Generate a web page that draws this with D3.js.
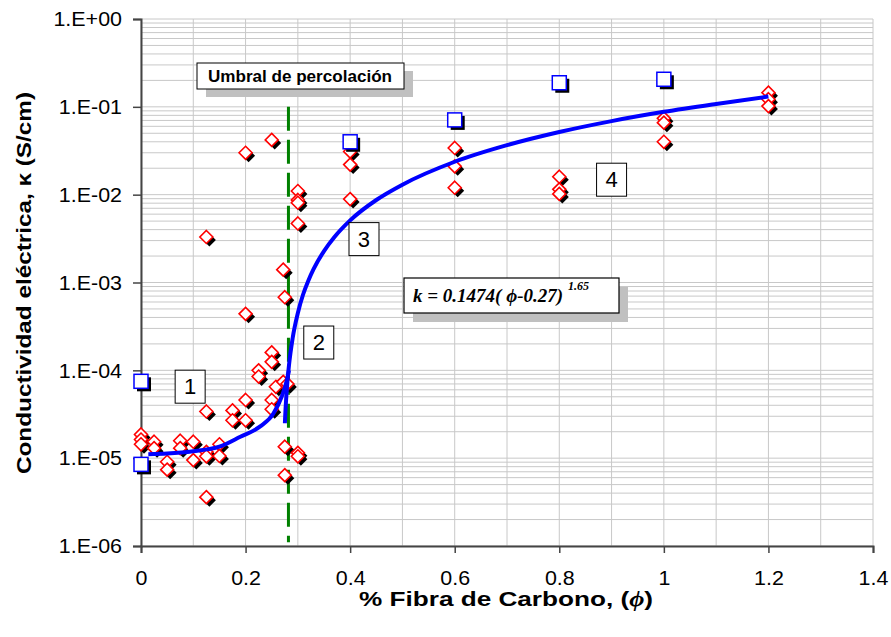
<!DOCTYPE html>
<html>
<head>
<meta charset="utf-8">
<script src="https://cdn.jsdelivr.net/npm/d3@7"></script>
<style>
  body { margin: 0; background: #fff; }
  svg { display: block; font-family: "Liberation Sans", Arial, sans-serif; }
</style>
</head>
<body>
<svg id="chart" width="891" height="637"></svg>
<script>
// measured samples (fibre %, conductivity S/cm)
const diamondX = [0, 0, 0, 0.025, 0.025, 0.05, 0.05, 0.075, 0.075, 0.1, 0.1,
  0.125, 0.125, 0.125, 0.125, 0.125, 0.15, 0.15, 0.175, 0.175,
  0.2, 0.2, 0.2, 0.2, 0.225, 0.225, 0.25, 0.25, 0.25, 0.25, 0.25, 0.258,
  0.272, 0.272, 0.275, 0.275, 0.275, 0.28,
  0.3, 0.3, 0.3, 0.3, 0.3, 0.3, 0.4, 0.4, 0.4, 0.6, 0.6, 0.6,
  0.8, 0.8, 0.8, 1.0, 1.0, 1.0, 1.2, 1.2, 1.2];
const diamondK = [1.86e-5, 1.63e-5, 1.44e-5, 1.54e-5, 1.3e-5, 9.1e-6, 7.4e-6, 1.58e-5, 1.3e-5, 1.54e-5, 9.5e-6,
  3.4e-5, 1.18e-5, 1.05e-5, 3.6e-6, 3.3e-3, 1.44e-5, 1.06e-5, 3.5e-5, 2.7e-5,
  4.6e-5, 2.7e-5, 4.4e-4, 3.0e-2, 1.0e-4, 8.5e-5, 1.6e-4, 1.25e-4, 4.6e-5, 3.6e-5, 4.2e-2, 6.5e-5,
  7.4e-5, 1.4e-3, 6.8e-4, 1.35e-5, 6.4e-6, 7.0e-5,
  1.1e-2, 8.7e-3, 8.1e-3, 4.7e-3, 1.15e-5, 1.05e-5, 3.1e-2, 2.2e-2, 8.9e-3, 3.4e-2, 2.1e-2, 1.2e-2,
  1.6e-2, 1.15e-2, 1.02e-2, 7.4e-2, 6.6e-2, 4.0e-2, 0.145, 0.122, 0.102];

// average values
const squareX = [0, 0, 0.4, 0.6, 0.8, 1.0];
const squareK = [7.5e-5, 8.5e-6, 4.0e-2, 7.1e-2, 0.188, 0.206];

// fitted curves
const lowFitX = [0.014, 0.05, 0.1, 0.15, 0.19, 0.228, 0.253, 0.269, 0.279, 0.283];
const lowFitK = [1.11e-5, 1.13e-5, 1.2e-5, 1.35e-5, 1.75e-5, 2.3e-5, 3.2e-5, 5.0e-5, 7.7e-5, 1.0e-4];
const percFitX = [0.2752, 0.276, 0.2775, 0.28, 0.283, 0.29, 0.3, 0.31, 0.32, 0.33, 0.35, 0.37, 0.4, 0.45, 0.5, 0.6, 0.7, 0.8, 0.9, 1.0, 1.1, 1.2];
const percFitK = [2.5e-5, 3.2e-5, 4.6e-5, 7.4e-5, 1.14e-4, 2.32e-4, 4.5e-4, 7.3e-4, 1.05e-3, 1.42e-3, 2.28e-3, 3.3e-3, 5.1e-3, 8.7e-3, 1.3e-2, 2.37e-2, 3.66e-2, 5.17e-2, 6.88e-2, 8.77e-2, 0.108, 0.131];

const threshold = 0.282;
const xTicks = [0, 0.2, 0.4, 0.6, 0.8, 1, 1.2, 1.4];
const yTicks = [1e-6, 1e-5, 1e-4, 1e-3, 1e-2, 1e-1, 1];
const yTickLabels = ["1.E-06", "1.E-05", "1.E-04", "1.E-03", "1.E-02", "1.E-01", "1.E+00"];
const regionLabels = ["1", "2", "3", "4"];
const regionX = [0.094, 0.34, 0.4265, 0.90];
const regionK = [6.6e-5, 2.1e-4, 3.16e-3, 1.5e-2];

const svg = d3.select("#chart");
const pLeft = 141, pRight = 873, pTop = 19, pBottom = 546;

const x = d3.scaleLinear().domain([0, 1.4]).range([pLeft, pRight]);
const y = d3.scaleLog().domain([1e-6, 1]).range([pBottom, pTop]);

// the original renders its Arial text a little wider than Liberation Sans
function widen(sel, f) {
    sel.each(function () {
        const len = this.getComputedTextLength();
        d3.select(this).attr("textLength", len * f).attr("lengthAdjust", "spacingAndGlyphs");
    });
}

// grid
const grid = svg.append("g").attr("stroke", "#c8c8c8").attr("stroke-width", 1);
d3.range(0, 1.41, 0.1).forEach(v => {
    grid.append("line").attr("x1", x(v)).attr("x2", x(v)).attr("y1", pTop).attr("y2", pBottom);
});
const minor = [];
for (let e = -6; e < 0; e++) for (let m = 1; m <= 9; m++) minor.push(m * Math.pow(10, e));
minor.push(1);
minor.forEach(v => {
    grid.append("line").attr("x1", pLeft).attr("x2", pRight).attr("y1", y(v)).attr("y2", y(v));
});

// axes
const xAxis = svg.append("g")
    .attr("transform", "translate(0," + pBottom + ")")
    .call(d3.axisBottom(x).tickValues(xTicks).tickSize(7).tickFormat(d3.format("")));
const yAxis = svg.append("g")
    .attr("transform", "translate(" + pLeft + ",0)")
    .call(d3.axisLeft(y).tickValues(yTicks).tickSize(8).tickFormat((d, i) => yTickLabels[i]));
[xAxis, yAxis].forEach(a => {
    a.select(".domain").attr("stroke", "#444").attr("stroke-width", 2);
    a.selectAll(".tick line").attr("stroke", "#444").attr("stroke-width", 1.5);
    a.selectAll("text").attr("fill", "#000").attr("font-family", "Liberation Sans, Arial, sans-serif");
});
xAxis.selectAll("text").attr("font-size", 19.5).attr("y", 25).attr("dy", "0.71em");
yAxis.selectAll("text").attr("font-size", 19.5).attr("x", -19).attr("dy", "0.35em");
widen(xAxis.selectAll("text"), 1.1);
widen(yAxis.selectAll("text"), 1.1);

// axis titles
svg.append("text")
    .attr("x", 506).attr("y", 606)
    .attr("text-anchor", "middle")
    .attr("font-weight", "bold").attr("font-size", 21)
    .attr("textLength", 294).attr("lengthAdjust", "spacingAndGlyphs")
    .html('% Fibra de Carbono, (<tspan font-family="Liberation Serif" font-style="italic">ϕ</tspan>)');
svg.append("text")
    .attr("transform", "translate(31,283) rotate(-90)")
    .attr("text-anchor", "middle")
    .attr("font-weight", "bold").attr("font-size", 20.5)
    .attr("textLength", 382).attr("lengthAdjust", "spacingAndGlyphs")
    .text("Conductividad eléctrica, κ (S/cm)");

// threshold line
svg.append("line")
    .attr("x1", x(threshold)).attr("x2", x(threshold))
    .attr("y1", y(0.1)).attr("y2", y(1.1e-6))
    .attr("stroke", "#008000").attr("stroke-width", 3)
    .attr("stroke-dasharray", "24,9");

// markers
const diamonds = diamondX.map((d, i) => ({ x: d, k: diamondK[i] }));
const squares = squareX.map((d, i) => ({ x: d, k: squareK[i] }));
const dPath = "M0,-6.5L6.5,0L0,6.5L-6.5,0Z";

const dg = svg.append("g");
dg.selectAll(".dshadow").data(diamonds).enter().append("path")
    .attr("class", "dshadow")
    .attr("d", dPath)
    .attr("transform", d => "translate(" + (x(d.x) + 3) + "," + (y(d.k) + 3) + ")")
    .attr("fill", "#000");
dg.selectAll(".diamond").data(diamonds).enter().append("path")
    .attr("class", "diamond")
    .attr("d", dPath)
    .attr("transform", d => "translate(" + x(d.x) + "," + y(d.k) + ")")
    .attr("fill", "#fff").attr("stroke", "#ff0000").attr("stroke-width", 1.6);

const sg = svg.append("g");
sg.selectAll(".sshadow").data(squares).enter().append("rect")
    .attr("class", "sshadow")
    .attr("x", d => x(d.x) - 7 + 3).attr("y", d => y(d.k) - 7 + 3)
    .attr("width", 14).attr("height", 14)
    .attr("fill", "#000");
sg.selectAll(".square").data(squares).enter().append("rect")
    .attr("class", "square")
    .attr("x", d => x(d.x) - 7).attr("y", d => y(d.k) - 7)
    .attr("width", 14).attr("height", 14)
    .attr("fill", "#fff").attr("stroke", "#0000ff").attr("stroke-width", 1.5);

// fitted curves
const line = d3.line().x(d => x(d[0])).y(d => y(d[1])).curve(d3.curveMonotoneX);
svg.append("path")
    .attr("d", line(lowFitX.map((v, i) => [v, lowFitK[i]])))
    .attr("fill", "none").attr("stroke", "#0000ff").attr("stroke-width", 4);
svg.append("path")
    .attr("d", line(percFitX.map((v, i) => [v, percFitK[i]])))
    .attr("fill", "none").attr("stroke", "#0000ff").attr("stroke-width", 4);

// region labels
regionLabels.forEach((t, i) => {
    const cx = x(regionX[i]), cy = y(regionK[i]);
    svg.append("rect")
        .attr("x", cx - 15).attr("y", cy - 16).attr("width", 30).attr("height", 33)
        .attr("fill", "#fff").attr("stroke", "#000").attr("stroke-width", 1);
    svg.append("text")
        .attr("x", cx).attr("y", cy + 8)
        .attr("text-anchor", "middle").attr("font-size", 22)
        .text(t);
});

// callout: percolation threshold
svg.append("rect").attr("x", 206).attr("y", 71).attr("width", 207).attr("height", 26).attr("fill", "#c0c0c0");
svg.append("rect").attr("x", 197).attr("y", 63).attr("width", 207).attr("height", 26)
    .attr("fill", "#fff").attr("stroke", "#000").attr("stroke-width", 1);
svg.append("text").attr("x", 300).attr("y", 82)
    .attr("text-anchor", "middle").attr("font-weight", "bold").attr("font-size", 16)
    .attr("textLength", 184).attr("lengthAdjust", "spacingAndGlyphs")
    .text("Umbral de percolación");

// callout: equation
svg.append("rect").attr("x", 413).attr("y", 287).attr("width", 215).attr("height", 35).attr("fill", "#c0c0c0");
svg.append("rect").attr("x", 404).attr("y", 278).attr("width", 215).attr("height", 35)
    .attr("fill", "#fff").attr("stroke", "#000").attr("stroke-width", 1.2);
svg.append("text").attr("x", 413).attr("y", 302)
    .attr("font-family", "Liberation Serif, Times New Roman, serif")
    .attr("font-weight", "bold").attr("font-style", "italic").attr("font-size", 19)
    .html('k = 0.1474( ϕ-0.27)<tspan dx="5" dy="-12" font-size="12">1.65</tspan>');
</script>
</body>
</html>
